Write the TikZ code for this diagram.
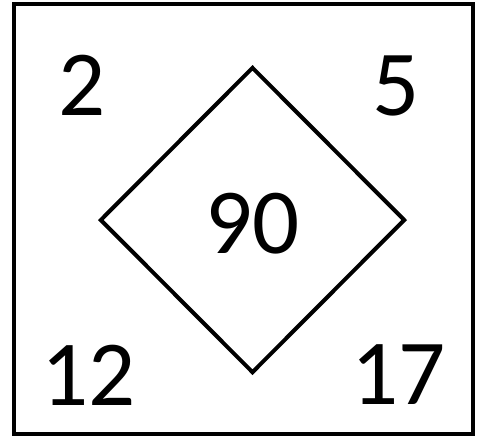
\documentclass[tikz,border=0pt]{standalone}
\usepackage{fontspec}
\setmainfont{Carlito}
\usetikzlibrary{shapes.geometric}

\begin{document}
\begin{tikzpicture}[x=1pt, y=-1pt, every node/.style={inner sep=0pt, font=\fontsize{93}{93}\selectfont},
  corner/.style={anchor=center}, hubshape/.style={draw, diamond, line width=4pt, minimum width=305pt, minimum height=306pt}]
\useasboundingbox (0,0) rectangle (478,440);
\node[draw, line width=4.5pt, minimum width=459pt, minimum height=430pt] (frame) at (243.5,219) {};
\node[hubshape] (hub) at (252.5,220) {};
\node (mid) at (252.5,224) {90};
\node[corner] (tl) at (82.5,85.5) {2};
\node[corner] (tr) at (396,85.5) {5};
\node[corner] (bl) at (88.5,375) {12};
\node[corner] (br) at (398.5,375) {17};
\end{tikzpicture}
\end{document}
